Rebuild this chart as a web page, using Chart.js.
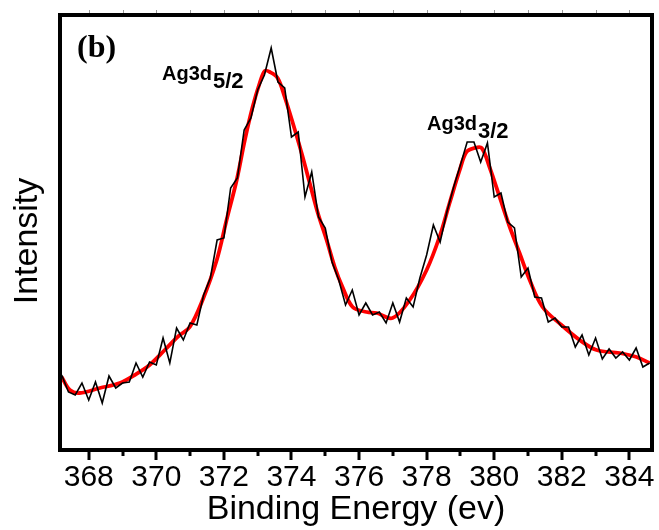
<!DOCTYPE html>
<html>
<head>
<meta charset="utf-8">
<script src="https://cdn.jsdelivr.net/npm/chart.js@4.4.1/dist/chart.umd.min.js"></script>
<style>
  html, body { margin: 0; padding: 0; background: #fff; }
  #wrap { width: 659px; height: 530px; }
</style>
</head>
<body>
<div id="wrap"><canvas id="xpsChart"></canvas></div>
<script>
// raw XPS scan (black) - intensity in arbitrary units
var rawEnergy = [
  367.2, 367.4, 367.6, 367.8, 368.0, 368.2, 368.4, 368.6, 368.8, 369.0,
  369.2, 369.4, 369.6, 369.8, 370.0, 370.2, 370.4, 370.6, 370.8, 371.0,
  371.2, 371.4, 371.6, 371.8, 372.0, 372.2, 372.4, 372.6, 372.8, 373.0,
  373.2, 373.4, 373.6, 373.8, 374.0, 374.2, 374.4, 374.6, 374.8, 375.0,
  375.2, 375.4, 375.6, 375.8, 376.0, 376.2, 376.4, 376.6, 376.8, 377.0,
  377.2, 377.4, 377.6, 377.8, 378.0, 378.2, 378.4, 378.6, 378.8, 379.0,
  379.2, 379.4, 379.6, 379.8, 380.0, 380.2, 380.4, 380.6, 380.8, 381.0,
  381.2, 381.4, 381.6, 381.8, 382.0, 382.2, 382.4, 382.6, 382.8, 383.0,
  383.2, 383.4, 383.6, 383.8, 384.0, 384.2, 384.4, 384.6
];
var rawCounts = [
  75, 58, 55, 67, 50, 68, 47, 74, 62, 67,
  68, 87, 73, 88, 85, 112, 87, 122, 110, 127,
  125, 155, 172, 210, 212, 262, 272, 320, 332, 360,
  375, 402, 368, 362, 313, 318, 253, 278, 233, 222,
  188, 170, 145, 160, 135, 147, 135, 138, 127, 147,
  128, 152, 143, 172, 195, 225, 208, 238, 263, 285,
  308, 308, 288, 307, 253, 257, 228, 222, 173, 182,
  153, 152, 128, 132, 123, 123, 103, 115, 95, 112,
  91, 101, 92, 98, 90, 102, 83, 87
];

// fitted envelope (red)
var fitEnergy = [
  367.20, 367.44, 367.73, 368.33, 368.92, 369.36, 369.80, 370.25, 370.66, 370.99,
  371.37, 371.79, 372.08, 372.38, 372.62, 372.85, 373.06, 373.21, 373.36, 373.59,
  373.80, 374.04, 374.30, 374.54, 374.78, 375.04, 375.28, 375.51, 375.81, 376.22,
  376.52, 376.99, 377.50, 378.00, 378.38, 378.68, 378.98, 379.18, 379.42, 379.63,
  379.86, 380.16, 380.46, 380.75, 381.05, 381.43, 381.99, 382.53, 383.03, 383.71,
  384.21, 384.60
];
var fitCounts = [
  73, 60, 57, 62, 67, 75, 85, 100, 114, 123,
  150, 190, 230, 270, 310, 343, 367, 379, 378, 372,
  353, 327, 297, 267, 237, 210, 183, 163, 143, 138,
  137, 132, 150, 180, 213, 247, 280, 298, 302, 302,
  283, 253, 223, 197, 170, 143, 125, 110, 100, 97,
  93, 87
];

var majorTicks = [368, 370, 372, 374, 376, 378, 380, 382, 384];
var minorTicks = [369, 371, 373, 375, 377, 379, 381, 383];

var peakLabels = [
  { main: 'Ag3d', sub: '5/2', x: 162, y: 80 },
  { main: 'Ag3d', sub: '3/2', x: 427, y: 130 }
];

function pairs(xs, ys) {
  return xs.map(function (x, i) { return { x: x, y: ys[i] }; });
}

var SANS = '"Liberation Sans", Arial, sans-serif';

var framePlugin = {
  id: 'frame',
  afterDatasetsDraw: function (chart) {
    var ctx = chart.ctx;
    var a = chart.chartArea;
    var xs = chart.scales.x;
    ctx.save();
    ctx.strokeStyle = '#000';
    ctx.lineWidth = 4;
    ctx.strokeRect(a.left, a.top, a.right - a.left, a.bottom - a.top);

    // bottom tick marks, outward
    ctx.lineWidth = 3;
    majorTicks.forEach(function (v) {
      var px = Math.round(xs.getPixelForValue(v));
      ctx.beginPath();
      ctx.moveTo(px, a.bottom);
      ctx.lineTo(px, a.bottom + 10);
      ctx.stroke();
    });
    minorTicks.forEach(function (v) {
      var px = Math.round(xs.getPixelForValue(v));
      ctx.beginPath();
      ctx.moveTo(px, a.bottom);
      ctx.lineTo(px, a.bottom + 6);
      ctx.stroke();
    });

    // faint ticks along the top
    ctx.strokeStyle = '#999';
    ctx.lineWidth = 1;
    majorTicks.concat(minorTicks).forEach(function (v) {
      var px = Math.round(xs.getPixelForValue(v)) + 0.5;
      ctx.beginPath();
      ctx.moveTo(px, a.top - 2);
      ctx.lineTo(px, a.top - 5);
      ctx.stroke();
    });

    // panel letter
    ctx.fillStyle = '#000';
    ctx.textAlign = 'left';
    ctx.textBaseline = 'alphabetic';
    ctx.font = 'bold 32px "Liberation Serif", "Times New Roman", serif';
    ctx.fillText('(b)', 77, 57);

    // peak labels with subscripts
    peakLabels.forEach(function (p) {
      ctx.font = 'bold 20px ' + SANS;
      ctx.fillText(p.main, p.x, p.y);
      var w = ctx.measureText(p.main).width;
      ctx.font = 'bold 22px ' + SANS;
      ctx.fillText(p.sub, p.x + w + 1, p.y + 8);
    });

    // y axis label
    ctx.font = '34px ' + SANS;
    ctx.translate(37, 241);
    ctx.rotate(-Math.PI / 2);
    ctx.textAlign = 'center';
    ctx.fillText('Intensity', 0, 0);
    ctx.restore();
  }
};

new Chart(document.getElementById('xpsChart').getContext('2d'), {
  type: 'line',
  data: {
    datasets: [{
      label: 'raw',
      data: pairs(rawEnergy, rawCounts),
      borderColor: '#000',
      borderWidth: 1.6,
      pointRadius: 0,
      tension: 0,
      fill: false
    }, {
      label: 'fit',
      data: pairs(fitEnergy, fitCounts),
      borderColor: '#ff0000',
      borderWidth: 3.8,
      pointRadius: 0,
      tension: 0.35,
      fill: false
    }]
  },
  options: {
    responsive: true,
    maintainAspectRatio: false,
    animation: false,
    layout: {
      padding: { top: 15, right: 7, left: 0, bottom: 0 }
    },
    plugins: {
      legend: { display: false },
      tooltip: { enabled: false }
    },
    scales: {
      x: {
        type: 'linear',
        min: 367.15,
        max: 384.67,
        afterBuildTicks: function (scale) {
          scale.ticks = majorTicks.map(function (v) { return { value: v }; });
        },
        afterFit: function (scale) {
          scale.height = 80;
          // labels may overhang the edges; keep the plot box fixed
          scale.paddingLeft = 0;
          scale.paddingRight = 0;
        },
        grid: { display: false, drawTicks: false },
        border: { display: false },
        ticks: {
          color: '#000',
          padding: 10,
          maxRotation: 0,
          autoSkip: false,
          font: { family: SANS, size: 30 },
          callback: function (v) { return String(v); }
        },
        title: {
          display: true,
          text: 'Binding Energy (ev)',
          color: '#000',
          padding: 0,
          font: { family: SANS, size: 34, lineHeight: 1.2 }
        }
      },
      y: {
        min: 0,
        max: 435,
        afterFit: function (scale) {
          scale.width = 60;
        },
        grid: { display: false, drawTicks: false },
        border: { display: false },
        ticks: { display: false }
      }
    }
  },
  plugins: [framePlugin]
});
</script>
</body>
</html>
